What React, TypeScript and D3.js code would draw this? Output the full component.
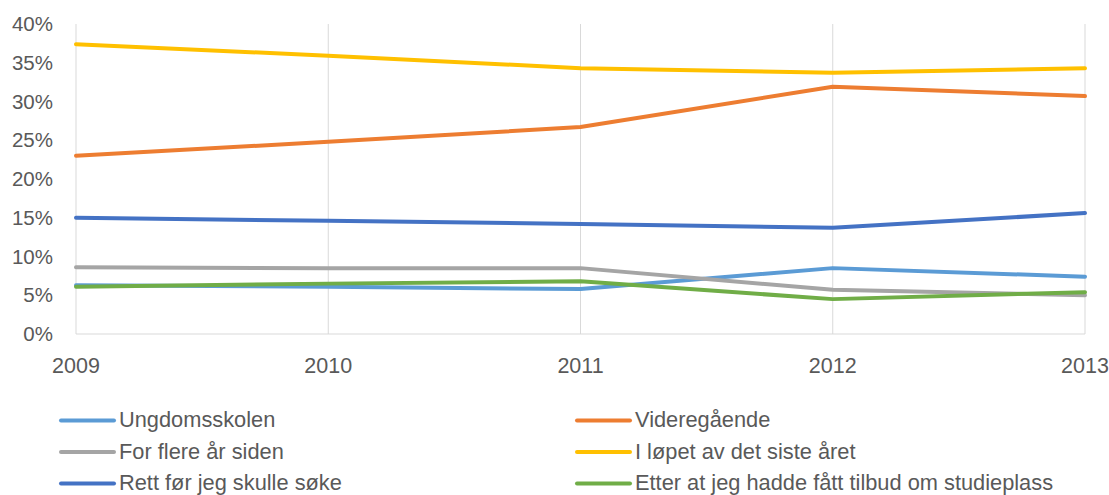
import React from "react";
import * as d3 from "d3";

const years = [2009, 2010, 2011, 2012, 2013];
const yTicks = [0, 5, 10, 15, 20, 25, 30, 35, 40];
const seriesNames = [
  "Ungdomsskolen",
  "Videregående",
  "For flere år siden",
  "I løpet av det siste året",
  "Rett før jeg skulle søke",
  "Etter at jeg hadde fått tilbud om studieplass",
];
const ungdomsskolen = [6.3, 6.1, 5.8, 8.5, 7.4];
const videregaende = [23.0, 24.8, 26.7, 31.9, 30.7];
const forFlere = [8.6, 8.5, 8.5, 5.7, 5.0];
const iLopet = [37.4, 35.9, 34.3, 33.7, 34.3];
const rettFor = [15.0, 14.6, 14.2, 13.7, 15.6];
const etterAt = [6.1, 6.5, 6.8, 4.5, 5.4];
const seriesValues = [ungdomsskolen, videregaende, forFlere, iLopet, rettFor, etterAt];
const colors = ["#5B9BD5", "#ED7D31", "#A5A5A5", "#FFC000", "#4472C4", "#70AD47"];

const W = 1109;
const H = 495;
const FONT = "'Liberation Sans', Arial, sans-serif";

export default function App() {
  const x = d3.scaleLinear().domain([2009, 2013]).range([76, 1085]);
  const y = d3.scaleLinear().domain([0, 40]).range([334, 24]);
  const line = d3
    .line<number>()
    .x((_, i) => x(years[i]))
    .y((v) => y(v));

  return (
    <div style={{ position: "absolute", left: 0, top: 0 }}>
      <svg width={W} height={H} style={{ display: "block", background: "#fff" }}>
        {years.map((yr) => (
          <line key={yr} x1={x(yr)} x2={x(yr)} y1={y(40)} y2={y(0)} stroke="#D9D9D9" strokeWidth={1} />
        ))}
        <line x1={x(2009)} x2={x(2013)} y1={y(0)} y2={y(0)} stroke="#D9D9D9" strokeWidth={1} />
        {yTicks.map((t) => (
          <text key={t} x={53} y={y(t) + 7} textAnchor="end" fontFamily={FONT} fontSize={20.5} fill="#595959">
            {t}%
          </text>
        ))}
        {years.map((yr) => (
          <text
            key={yr}
            x={x(yr)}
            y={373}
            textAnchor="middle"
            fontFamily={FONT}
            fontSize={21.5}
            fill="#595959"
          >
            {yr}
          </text>
        ))}
        {seriesValues.map((vals, i) => (
          <path
            key={i}
            d={line(vals) || ""}
            fill="none"
            stroke={colors[i]}
            strokeWidth={4}
            strokeLinejoin="round"
            strokeLinecap="round"
          />
        ))}
        {seriesNames.map((name, i) => {
          const col = i % 2;
          const row = Math.floor(i / 2);
          const lx = col === 0 ? 61 : 577;
          const ly = 420.5 + row * 31.5;
          return (
            <g key={name}>
              <line x1={lx} x2={lx + 53} y1={ly} y2={ly} stroke={colors[i]} strokeWidth={4} strokeLinecap="round" />
              <text x={lx + 58} y={ly + 6.5} fontFamily={FONT} fontSize={21.8} fill="#595959">
                {name}
              </text>
            </g>
          );
        })}
      </svg>
    </div>
  );
}
